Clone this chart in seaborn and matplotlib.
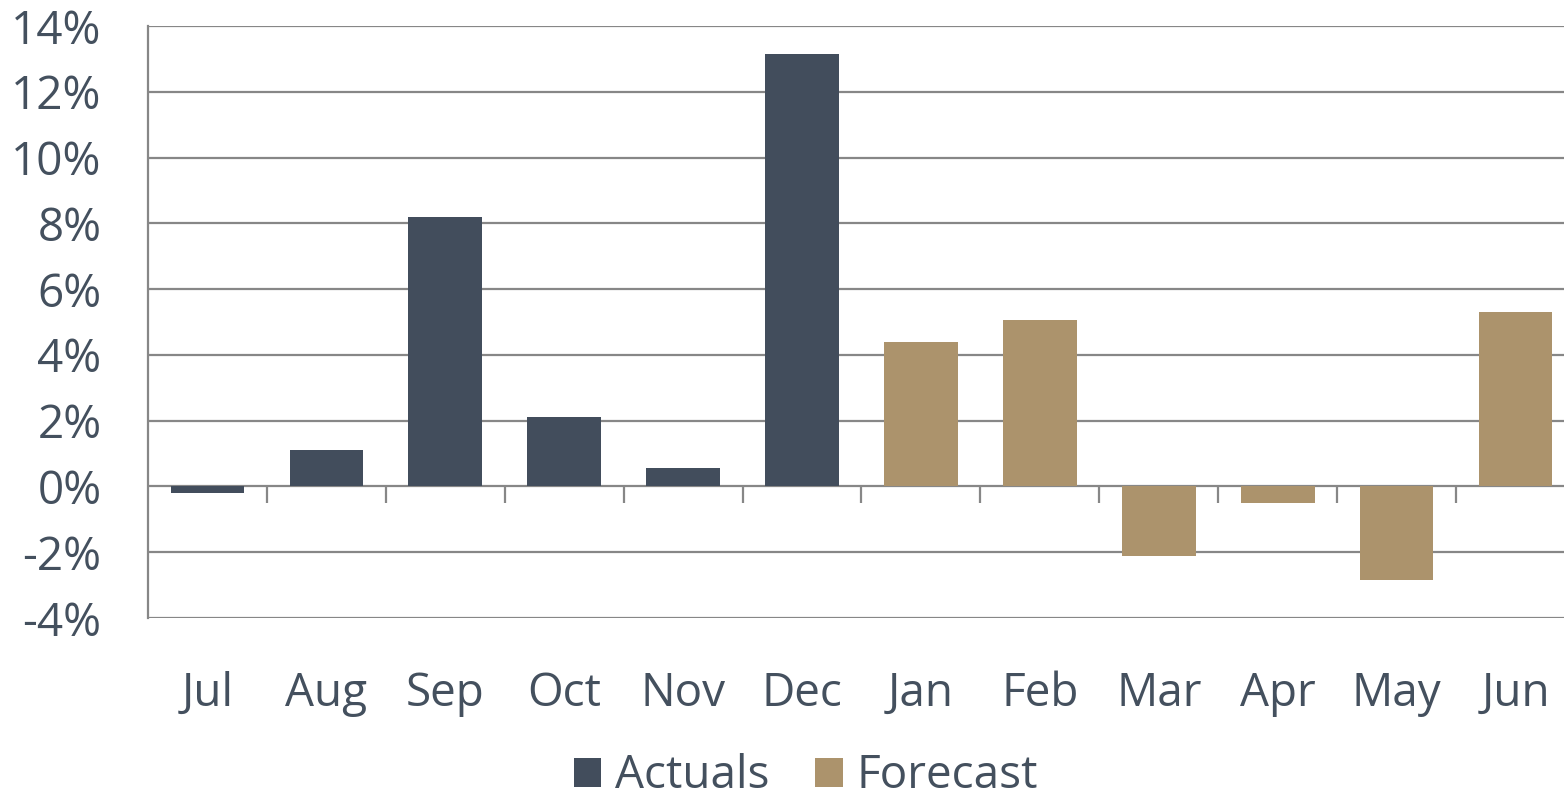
import matplotlib
matplotlib.use("Agg")
import matplotlib.pyplot as plt
import seaborn as sns

# ---- data ----
months = ['Jul', 'Aug', 'Sep', 'Oct', 'Nov', 'Dec',
          'Jan', 'Feb', 'Mar', 'Apr', 'May', 'Jun']
growth = [-0.2, 1.1, 8.2, 2.1, 0.55, 13.15,
          4.4, 5.05, -2.1, -0.5, -2.85, 5.3]
kind = ['Actuals'] * 6 + ['Forecast'] * 6
ytick_vals = [-4, -2, 0, 2, 4, 6, 8, 10, 12, 14]
ytick_labels = ['-4%', '-2%', '0%', '2%', '4%', '6%', '8%', '10%', '12%', '14%']

colors = {'Actuals': '#424D5C', 'Forecast': '#AC936C'}
grid_c = '#878787'
text_c = '#44505E'

sns.set_style("white")
plt.rcParams['font.family'] = ['Open Sans', 'DejaVu Sans']

fig = plt.figure(figsize=(15.64, 7.93), dpi=100)
# plot area runs slightly past the right edge of the picture, as in the original
ax = fig.add_axes([148 / 1564, 1 - 618 / 793, (1575 - 148) / 1564, (618 - 26) / 793])

sns.barplot(x=months, y=growth, hue=kind, palette=colors, dodge=False,
            width=0.62, linewidth=0, saturation=1, ax=ax, legend=True)

ax.set_xlim(-0.5, 11.5)
ax.set_ylim(-4, 14)
ax.set_yticks(ytick_vals)
ax.set_yticklabels(ytick_labels)
ax.set_axisbelow(True)
ax.yaxis.grid(True, color=grid_c, linewidth=1.6)

for s in ['top', 'right', 'bottom']:
    ax.spines[s].set_visible(False)
ax.spines['left'].set_color(grid_c)
ax.spines['left'].set_linewidth(1.6)

ax.tick_params(axis='y', length=11.5, width=1.6, color=grid_c, pad=22,
               labelsize=33, labelcolor=text_c)
ax.tick_params(axis='x', length=0, pad=38, labelsize=33, labelcolor=text_c)
ax.set_xlabel('')
ax.set_ylabel('')

# category boundary ticks hanging from the zero line
sec = ax.secondary_xaxis(4 / 18)
sec.set_xticks([i + 0.5 for i in range(len(months) - 1)])
sec.tick_params(axis='x', direction='out', length=12, width=1.6, color=grid_c,
                labelbottom=False, labeltop=False, bottom=True, top=False)
sec.spines['bottom'].set_visible(False)
sec.spines['top'].set_visible(False)

ax.legend_.remove()
handles, labels = ax.get_legend_handles_labels()
fig.legend(handles, labels, loc='lower center', bbox_to_anchor=(806 / 1564, -0.06),
           ncol=2, frameon=False, fontsize=33, labelcolor=text_c,
           handlelength=0.6, handleheight=0.6, handletextpad=0.3, columnspacing=1.0)

fig.savefig('out.png', dpi=100)
